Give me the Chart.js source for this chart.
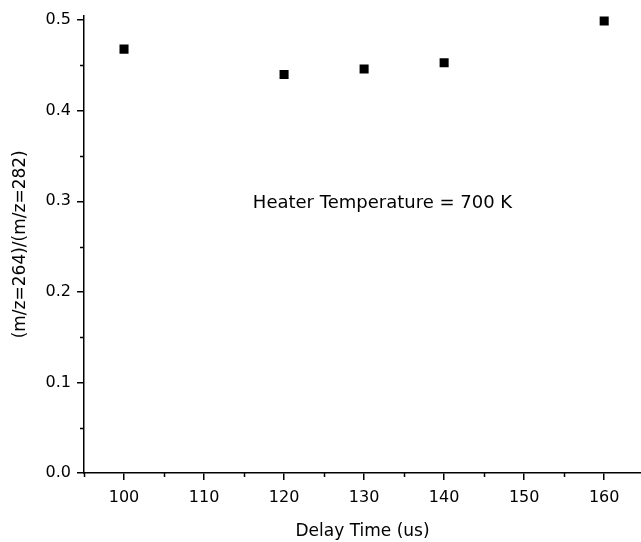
<!DOCTYPE html>
<html>
<head>
<meta charset="utf-8">
<script src="https://cdn.jsdelivr.net/npm/chart.js@4"></script>
<style>
  html, body { margin: 0; padding: 0; background: #fff; }
  #wrap { width: 641px; height: 542px; }
</style>
</head>
<body>
<div id="wrap"><canvas id="chart_delay"></canvas></div>
<script>
// delay time (us) vs ratio of m/z=264 to m/z=282
const delay_times = [100, 120, 130, 140, 160];
const ratio_values = [0.468, 0.440, 0.446, 0.453, 0.499];
const note_text = 'Heater Temperature = 700 K';
const note_pos = [132.3, 0.298]; // in data units

const font_name = '"DejaVu Sans", "Liberation Sans", Arial, sans-serif';

// minor ticks half way between the labelled ones
const minorTicks = {
  id: 'minorTicks',
  afterDraw(chart){
    const ctx = chart.ctx;
    const xs = chart.scales.x, ys = chart.scales.y;
    ctx.save();
    ctx.strokeStyle = '#000';
    ctx.lineWidth = 1.5;
    ctx.beginPath();
    for (let v = 95; v <= xs.max; v += 10){
      const px = Math.round(xs.getPixelForValue(v)) + 0.5;
      ctx.moveTo(px, ys.bottom);
      ctx.lineTo(px, ys.bottom + 4);
    }
    for (let v = 0.05; v <= ys.max; v += 0.1){
      const py = Math.round(ys.getPixelForValue(v)) + 0.5;
      ctx.moveTo(xs.left, py);
      ctx.lineTo(xs.left - 4, py);
    }
    ctx.stroke();
    ctx.restore();
  }
};

// text label inside the plot
const noteLabel = {
  id: 'noteLabel',
  afterDatasetsDraw(chart){
    const ctx = chart.ctx;
    ctx.save();
    ctx.fillStyle = '#000';
    ctx.font = '18px ' + font_name;
    ctx.textAlign = 'center';
    ctx.textBaseline = 'middle';
    ctx.fillText(note_text, chart.scales.x.getPixelForValue(note_pos[0]), chart.scales.y.getPixelForValue(note_pos[1]));
    ctx.restore();
  }
};

const data = {
  datasets: [{
    data: delay_times.map((t, i) => ({x: t, y: ratio_values[i]})),
    pointStyle: 'rect',
    pointRadius: 6.4,
    pointHoverRadius: 6.4,
    backgroundColor: '#000',
    borderColor: '#000',
    borderWidth: 0,
    showLine: false
  }]
};

const options = {
  responsive: true,
  maintainAspectRatio: false,
  animation: false,
  events: [],
  layout: { autoPadding: false, padding: { top: 15, right: 0, left: 0, bottom: 0 } },
  plugins: { legend: { display: false }, tooltip: { enabled: false } },
  scales: {
    x: {
      type: 'linear',
      min: 95,
      max: 164.6,
      border: { display: true, color: '#000', width: 1.5 },
      grid: { drawOnChartArea: false, drawTicks: true, tickLength: 7, color: '#000', lineWidth: 1.5 },
      ticks: {
        stepSize: 10,
        includeBounds: false,
        padding: 8,
        color: '#000',
        font: { family: font_name, size: 16 },
        maxRotation: 0,
        callback: v => v.toString()
      },
      title: {
        display: true,
        text: 'Delay Time (us)',
        color: '#000',
        font: { family: font_name, size: 17 },
        padding: { top: 10, bottom: 0 }
      },
      afterFit(scale){
        scale.height = 69;
        scale.paddingRight = 0;
        scale.paddingLeft = 0;
      }
    },
    y: {
      type: 'linear',
      min: 0,
      max: 0.505,
      border: { display: true, color: '#000', width: 1.5 },
      grid: { drawOnChartArea: false, drawTicks: true, tickLength: 7, color: '#000', lineWidth: 1.5 },
      ticks: {
        stepSize: 0.1,
        includeBounds: false,
        padding: 6,
        color: '#000',
        font: { family: font_name, size: 16 },
        callback: v => v.toFixed(1)
      },
      title: {
        display: true,
        text: '(m/z=264)/(m/z=282)',
        color: '#000',
        font: { family: font_name, size: 17 },
        padding: { top: 10, bottom: 0 }
      },
      afterFit(scale){ scale.width = 84; }
    }
  }
};

window.delayChart = new Chart(document.getElementById('chart_delay'), {
  type: 'scatter',
  data: data,
  options: options,
  plugins: [minorTicks, noteLabel]
});
</script>
</body>
</html>
